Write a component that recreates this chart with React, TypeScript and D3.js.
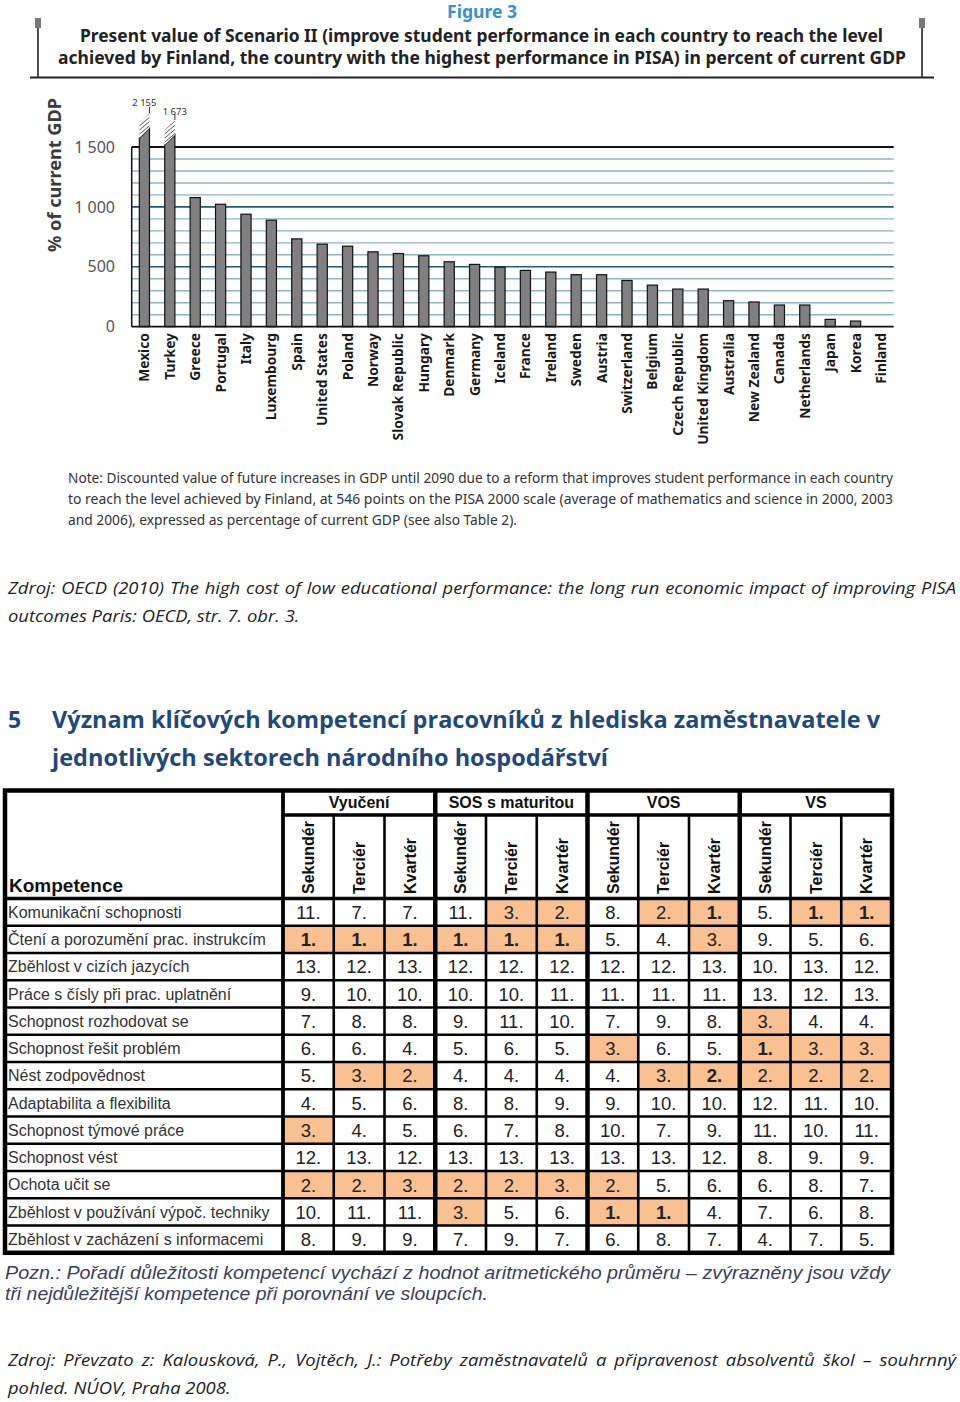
import React, { useLayoutEffect, useRef } from 'react';
import * as d3 from 'd3';

// ---------- Figure 3 data ----------
const countries = [
  'Mexico', 'Turkey', 'Greece', 'Portugal', 'Italy', 'Luxembourg', 'Spain', 'United States',
  'Poland', 'Norway', 'Slovak Republic', 'Hungary', 'Denmark', 'Germany', 'Iceland', 'France',
  'Ireland', 'Sweden', 'Austria', 'Switzerland', 'Belgium', 'Czech Republic', 'United Kingdom',
  'Australia', 'New Zealand', 'Canada', 'Netherlands', 'Japan', 'Korea', 'Finland',
];
const gdpValues = [
  2155, 1673, 1078, 1022, 939, 889, 733, 689, 672, 625, 611, 592, 542, 520, 497, 470,
  456, 434, 434, 386, 347, 314, 314, 217, 206, 181, 181, 61, 47, 0,
];
const yTickValues = [0, 500, 1000, 1500];
const yTickLabels = ['0', '500', '1 000', '1 500'];
const truncatedLabels = ['2 155', '1 673'];

// ---------- Table data ----------
const competences = [
  'Komunikační schopnosti',
  'Čtení a porozumění prac. instrukcím',
  'Zběhlost v cizích jazycích',
  'Práce s čísly při prac. uplatnění',
  'Schopnost rozhodovat se',
  'Schopnost řešit problém',
  'Nést zodpovědnost',
  'Adaptabilita a flexibilita',
  'Schopnost týmové práce',
  'Schopnost vést',
  'Ochota učit se',
  'Zběhlost v používání výpoč. techniky',
  'Zběhlost v zacházení s informacemi',
];
const groups = ['Vyučení', 'SOS s maturitou', 'VOS', 'VS'];
const levels = ['Sekundér', 'Terciér', 'Kvartér'];
const ranks: number[][] = [
  [11, 7, 7, 11, 3, 2, 8, 2, 1, 5, 1, 1],
  [1, 1, 1, 1, 1, 1, 5, 4, 3, 9, 5, 6],
  [13, 12, 13, 12, 12, 12, 12, 12, 13, 10, 13, 12],
  [9, 10, 10, 10, 10, 11, 11, 11, 11, 13, 12, 13],
  [7, 8, 8, 9, 11, 10, 7, 9, 8, 3, 4, 4],
  [6, 6, 4, 5, 6, 5, 3, 6, 5, 1, 3, 3],
  [5, 3, 2, 4, 4, 4, 4, 3, 2, 2, 2, 2],
  [4, 5, 6, 8, 8, 9, 9, 10, 10, 12, 11, 10],
  [3, 4, 5, 6, 7, 8, 10, 7, 9, 11, 10, 11],
  [12, 13, 12, 13, 13, 13, 13, 13, 12, 8, 9, 9],
  [2, 2, 3, 2, 2, 3, 2, 5, 6, 6, 8, 7],
  [10, 11, 11, 3, 5, 6, 1, 1, 4, 7, 6, 8],
  [8, 9, 9, 7, 9, 7, 6, 8, 7, 4, 7, 5],
];
const boldCells: [number, number][] = [[6, 8]];

const OECD = '"Noto Sans", "Open Sans", sans-serif';
const DOC = '"Open Sans", "Noto Sans", sans-serif';
const ARIAL = '"Liberation Sans", Arial, sans-serif';

function BarChart() {
  const x = d3.scaleBand<string>().domain(countries).range([131.7, 893.7]).paddingInner(0.6).paddingOuter(0.3);
  const y = d3.scaleLinear().domain([0, 1500]).range([326.7, 147]);
  const grid = d3.range(100, 1500, 100);
  const bw = x.bandwidth();
  return (
    <g>
      <defs>
        <pattern id="hatch" patternUnits="userSpaceOnUse" width="3.2" height="3.2" patternTransform="rotate(-40)">
          <rect width="3.2" height="3.2" fill="#fff" />
          <line x1="0" y1="0" x2="3.2" y2="0" stroke="#333" strokeWidth="1.3" />
        </pattern>
      </defs>
      {grid.map((g) => (
        <line key={g} x1={131.7} x2={893.7} y1={y(g)} y2={y(g)}
          stroke={g % 500 === 0 ? '#1e5a80' : '#8db4ca'} strokeWidth={g % 500 === 0 ? 1.6 : 1.4} />
      ))}
      <line x1={131.7} x2={893.7} y1={y(1500)} y2={y(1500)} stroke="#111" strokeWidth={1.8} />
      <line x1={131.7} x2={131.7} y1={y(1500)} y2={y(0)} stroke="#111" strokeWidth={1.5} />
      {countries.map((c, i) => {
        const v = gdpValues[i];
        const x0 = x(c)!;
        const x1 = x0 + bw;
        if (v <= 0) return null;
        if (v > 1500) {
          const off = v > 2000 ? 19 : 12;
          const capR = y(1500) - off;
          const capL = capR + 10;
          const h = 15;
          return (
            <g key={c}>
              <polygon points={`${x0},${y(0)} ${x0},${capL} ${x1},${capR} ${x1},${y(0)}`} fill="#808080" stroke="#111" strokeWidth={1.2} />
              <polygon points={`${x0},${capL} ${x1},${capR} ${x1},${capR - h} ${x0},${capL - h}`} fill="url(#hatch)" />
              <line x1={x1} x2={x1} y1={capR - h} y2={capR - h - 6} stroke="#333" strokeWidth={1} />
            </g>
          );
        }
        return <rect key={c} x={x0} y={y(v)} width={bw} height={y(0) - y(v)} fill="#808080" stroke="#111" strokeWidth={1.2} />;
      })}
      <line x1={131.7} x2={893.7} y1={y(0)} y2={y(0)} stroke="#111" strokeWidth={1.8} />
      {truncatedLabels.map((t, i) => (
        <text key={t} x={x(countries[i])! + bw / 2 + (i === 0 ? 0 : 5)} y={i === 0 ? 106 : 115}
          textAnchor="middle" fontFamily={OECD} fontSize={9.5} fill="#333">{t}</text>
      ))}
      {yTickValues.map((t, i) => (
        <text key={t} x={115} y={y(t)} dy="0.35em" textAnchor="end" fontFamily={OECD} fontSize={16} fill="#555">{yTickLabels[i]}</text>
      ))}
      <text transform={`translate(61,175) rotate(-90)`} textAnchor="middle" fontFamily={OECD} fontSize={18.5} fontWeight="bold"
        fill="#3a3a3a" textLength={154} lengthAdjust="spacingAndGlyphs">% of current GDP</text>
      {countries.map((c) => (
        <text key={c} transform={`translate(${x(c)! + bw / 2},333) rotate(-90)`} dy="0.36em" textAnchor="end"
          fontFamily={OECD} fontSize={13.8} fontWeight="bold" fill="#1a1a1a">{c}</text>
      ))}
    </g>
  );
}

function Table() {
  const left = 5, right = 892, top = 790.5, groupBottom = 815, headBottom = 898.5, bottom = 1252.8;
  const colX0 = 283;
  const cols = d3.range(12);
  const cx = d3.scaleBand<number>().domain(cols).range([colX0, right]);
  const ry = d3.scaleBand<number>().domain(d3.range(competences.length)).range([headBottom, bottom]);
  const cw = cx.bandwidth();
  const rh = ry.bandwidth();
  const isBold = (r: number, c: number, v: number) => v === 1 || boldCells.some(([a, b]) => a === r && b === c);
  return (
    <g>
      <rect x={left} y={top} width={right - left} height={bottom - top} fill="#fff" />
      {ranks.map((row, r) => row.map((v, c) => v <= 3 ? (
        <rect key={`h${r}-${c}`} x={cx(c)!} y={ry(r)!} width={cw} height={rh} fill="#f9c091" />
      ) : null))}
      <text x={9} y={892} fontFamily={ARIAL} fontWeight="bold" fontSize={19} fill="#111">Kompetence</text>
      {groups.map((g, gi) => (
        <text key={g} x={cx(gi * 3)! + cw * 1.5} y={808} textAnchor="middle" fontFamily={ARIAL} fontWeight="bold" fontSize={16} fill="#111">{g}</text>
      ))}
      {cols.map((c) => (
        <text key={`l${c}`} transform={`translate(${cx(c)! + cw / 2},894) rotate(-90)`} dy="0.36em"
          fontFamily={ARIAL} fontWeight="bold" fontSize={16} fill="#111">{levels[c % 3]}</text>
      ))}
      {competences.map((k, r) => (
        <text key={k} x={8} y={ry(r)! + rh / 2} dy="0.36em" fontFamily={ARIAL} fontSize={16} fill="#333">{k}</text>
      ))}
      {ranks.map((row, r) => row.map((v, c) => (
        <text key={`t${r}-${c}`} x={cx(c)! + cw / 2} y={ry(r)! + rh / 2} dy="0.37em" textAnchor="middle"
          fontFamily={ARIAL} fontSize={18.5} fontWeight={isBold(r, c, v) ? 'bold' : 'normal'} fill="#222">{v}.</text>
      )))}
      {d3.range(1, competences.length).map((r) => (
        <line key={`hr${r}`} x1={left} x2={right} y1={ry(r)!} y2={ry(r)!} stroke="#000" strokeWidth={2.6} />
      ))}
      <line x1={left} x2={right} y1={headBottom} y2={headBottom} stroke="#000" strokeWidth={3.4} />
      <line x1={colX0} x2={right} y1={groupBottom} y2={groupBottom} stroke="#000" strokeWidth={3.4} />
      {cols.slice(1).map((c) => (
        <line key={`vc${c}`} x1={cx(c)!} x2={cx(c)!} y1={c % 3 === 0 ? top : groupBottom} y2={bottom}
          stroke="#000" strokeWidth={c % 3 === 0 ? 4.5 : 2.6} />
      ))}
      <line x1={colX0} x2={colX0} y1={top} y2={bottom} stroke="#000" strokeWidth={3.8} />
      <rect x={left} y={top} width={right - left} height={bottom - top} fill="none" stroke="#000" strokeWidth={4.5} />
    </g>
  );
}

export default function App() {
  const ref = useRef<SVGSVGElement>(null);
  useLayoutEffect(() => {
    const svg = ref.current;
    if (!svg) return;
    svg.querySelectorAll<SVGTextElement>('text[data-justify]').forEach((el) => {
      const target = +el.getAttribute('data-justify')!;
      el.style.wordSpacing = '0px';
      const len = el.getComputedTextLength();
      const spaces = (el.textContent || '').split(' ').length - 1;
      if (spaces > 0 && len < target) el.style.wordSpacing = `${(target - len) / spaces}px`;
      else if (len > target) {
        el.setAttribute('textLength', String(target));
        el.setAttribute('lengthAdjust', 'spacingAndGlyphs');
      }
    });
  }, []);
  const sx = 1.15;
  return (
    <svg ref={ref} width={960} height={1402} viewBox="0 0 960 1402" style={{ position: 'absolute', left: 0, top: 0, display: 'block', background: '#fff' }}>
      <rect width={960} height={1402} fill="#fff" />
      <text x={482} y={18} textAnchor="middle" fontFamily={OECD} fontSize={18} fontWeight="bold" fill="#3a8fd0"
        textLength={70} lengthAdjust="spacingAndGlyphs">Figure 3</text>
      <text x={481.5} y={42} textAnchor="middle" fontFamily={OECD} fontSize={18} fontWeight="bold" fill="#222"
        textLength={803} lengthAdjust="spacingAndGlyphs">Present value of Scenario II (improve student performance in each country to reach the level</text>
      <text x={482} y={64} textAnchor="middle" fontFamily={OECD} fontSize={18} fontWeight="bold" fill="#222"
        textLength={848} lengthAdjust="spacingAndGlyphs">achieved by Finland, the country with the highest performance in PISA) in percent of current GDP</text>
      <line x1={38} x2={38} y1={20} y2={77} stroke="#222" strokeWidth={1.6} />
      <rect x={35} y={18} width={6} height={10} fill="#777" />
      <line x1={922} x2={922} y1={20} y2={77} stroke="#222" strokeWidth={1.6} />
      <rect x={919} y={18} width={6} height={10} fill="#777" />
      <line x1={30} x2={934} y1={77.5} y2={77.5} stroke="#222" strokeWidth={1.8} />

      <BarChart />

      <g fontFamily={OECD} fontSize={14} fill="#333">
        <text x={68} y={483} textLength={825} lengthAdjust="spacingAndGlyphs">Note:  Discounted value of future increases in GDP until 2090 due to a reform that improves student performance in each country</text>
        <text x={68} y={504} textLength={825} lengthAdjust="spacingAndGlyphs">to reach the level achieved by Finland, at 546 points on the PISA 2000 scale (average of mathematics and science in 2000, 2003</text>
        <text x={68} y={525} textLength={449} lengthAdjust="spacingAndGlyphs">and 2006), expressed as percentage of current GDP (see also Table 2).</text>
      </g>

      <g fontFamily={DOC} fontSize={16} fontStyle="italic" fill="#222">
        <g transform={`translate(8,594) scale(${sx},1)`}>
          <text x={0} y={0} data-justify={948 / sx}>Zdroj: OECD (2010) The high cost of low educational performance: the long run economic impact of improving PISA</text>
        </g>
        <g transform={`translate(8,622) scale(${sx},1)`}>
          <text x={0} y={0}>outcomes Paris: OECD, str. 7. obr. 3.</text>
        </g>
      </g>

      <g fontFamily={DOC} fontSize={23} fontWeight="bold" fill="#1f497d">
        <text x={8} y={728}>5</text>
        <text x={52} y={728} textLength={828} lengthAdjust="spacingAndGlyphs">Význam klíčových kompetencí pracovníků z hlediska zaměstnavatele v</text>
        <text x={52} y={766} textLength={556} lengthAdjust="spacingAndGlyphs">jednotlivých sektorech národního hospodářství</text>
      </g>

      <Table />

      <g fontFamily={ARIAL} fontSize={18} fontStyle="italic" fill="#3c4058">
        <text x={5} y={1279} textLength={885} lengthAdjust="spacingAndGlyphs">Pozn.: Pořadí důležitosti kompetencí vychází z hodnot aritmetického průměru – zvýrazněny jsou vždy</text>
        <text x={5} y={1300} textLength={483} lengthAdjust="spacingAndGlyphs">tři nejdůležitější kompetence při porovnání ve sloupcích.</text>
      </g>

      <g fontFamily={DOC} fontSize={16} fontStyle="italic" fill="#222">
        <g transform={`translate(8,1366) scale(${sx},1)`}>
          <text x={0} y={0} data-justify={948 / sx}>Zdroj: Převzato z: Kalousková, P., Vojtěch, J.: Potřeby zaměstnavatelů a připravenost absolventů škol – souhrnný</text>
        </g>
        <g transform={`translate(8,1394) scale(${sx},1)`}>
          <text x={0} y={0}>pohled. NÚOV, Praha 2008.</text>
        </g>
      </g>
    </svg>
  );
}
